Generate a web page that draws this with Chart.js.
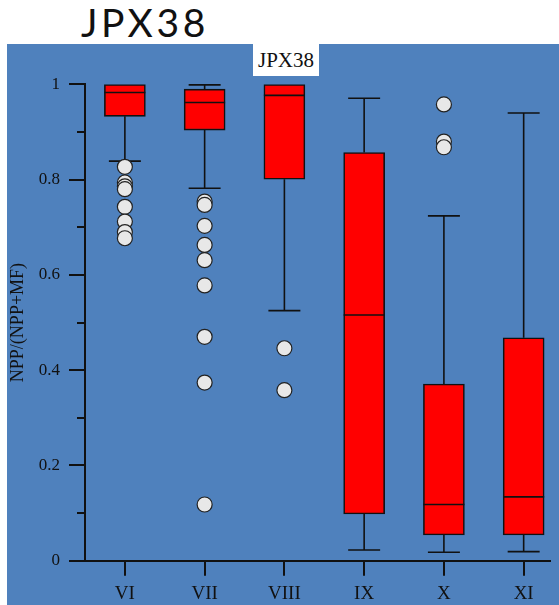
<!DOCTYPE html>
<html>
<head>
<meta charset="utf-8">
<script src="https://cdn.jsdelivr.net/npm/chart.js@4/dist/chart.umd.min.js"></script>
<style>
  html, body { margin: 0; padding: 0; background: #ffffff; }
  #page { position: relative; width: 559px; height: 605px; overflow: hidden; background: #ffffff; }
  #heading {
    position: absolute; left: 81px; top: 3px;
    font: 400 39px Lato, "Open Sans", sans-serif; line-height: 39px;
    letter-spacing: 3.6px;
    color: #111; white-space: nowrap;
  }
  #panel { position: absolute; left: 7px; top: 44px; width: 552px; height: 561px; background: #4f81bd; }
  #tag {
    position: absolute; left: 253px; top: 44px; width: 66px; height: 32px;
    background: #ffffff; color: #111; text-align: center;
    font: 21px "Liberation Serif", "Times New Roman", serif; line-height: 32px;
  }
</style>
</head>
<body>
<div id="page">
  <div id="heading">JPX38</div>
  <div id="panel"><canvas id="chart" width="552" height="561"></canvas></div>
  <div id="tag">JPX38</div>
</div>
<script>
// Months (roman numerals) along the x axis
const categories = ['VI', 'VII', 'VIII', 'IX', 'X', 'XI'];

// Five-number summaries per month
const whiskerLow  = [0.839, 0.782, 0.525, 0.0225, 0.0176, 0.019];
const q1          = [0.933, 0.904, 0.801, 0.098, 0.054, 0.054];
const median      = [0.983, 0.962, 0.977, 0.516, 0.118, 0.134];
const q3          = [1.000, 0.990, 1.000, 0.857, 0.371, 0.468];
const whiskerHigh = [1.000, 0.999, 1.000, 0.971, 0.724, 0.940];

// Outlying observations per month
const outliersVI   = [0.827, 0.794, 0.786, 0.780, 0.743, 0.712, 0.690, 0.677];
const outliersVII  = [0.754, 0.747, 0.703, 0.663, 0.631, 0.578, 0.470, 0.374, 0.118];
const outliersVIII = [0.446, 0.358];
const outliersIX   = [];
const outliersX    = [0.958, 0.880, 0.868];
const outliersXI   = [];

// Axis ticks
const yMajorTicks = [0, 0.2, 0.4, 0.6, 0.8, 1];
const yMinorTicks = [0.1, 0.3, 0.5, 0.7, 0.9];
const yTickLabels = ['0', '0.2', '0.4', '0.6', '0.8', '1'];

const outlierGroups = [outliersVI, outliersVII, outliersVIII, outliersIX, outliersX, outliersXI];

const boxData = categories.map((c, i) => ({ x: i, y: [q1[i], q3[i]] }));
const outlierData = [];
outlierGroups.forEach((group, i) => group.forEach(v => outlierData.push({ x: i, y: v })));

const INK = '#111111';

// Whiskers, caps, medians and minor ticks, placed through the chart scales
const boxParts = {
  id: 'boxParts',
  beforeDatasetsDraw(chart) {
    const { ctx, scales: { x, y } } = chart;
    const bars = chart.getDatasetMeta(0).data;
    ctx.save();
    ctx.strokeStyle = INK;
    ctx.lineWidth = 1.6;
    categories.forEach((c, i) => {
      const cx = x.getPixelForValue(i);
      const capHalf = bars[i].width * 0.39;
      const segs = [];
      if (whiskerLow[i] < q1[i]) segs.push([q1[i], whiskerLow[i]]);
      if (whiskerHigh[i] > q3[i]) segs.push([q3[i], whiskerHigh[i]]);
      segs.forEach(([from, to]) => {
        const y0 = y.getPixelForValue(from), y1 = y.getPixelForValue(to);
        ctx.beginPath();
        ctx.moveTo(cx, y0); ctx.lineTo(cx, y1);
        ctx.moveTo(cx - capHalf, y1); ctx.lineTo(cx + capHalf, y1);
        ctx.stroke();
      });
    });
    ctx.restore();
  },
  afterDatasetDraw(chart, args) {
    if (args.index !== 0) return;
    const { ctx, scales: { y } } = chart;
    ctx.save();
    ctx.strokeStyle = INK;
    ctx.lineWidth = 1.6;
    args.meta.data.forEach((bar, i) => {
      const my = y.getPixelForValue(median[i]);
      ctx.beginPath();
      ctx.moveTo(bar.x - bar.width / 2, my);
      ctx.lineTo(bar.x + bar.width / 2, my);
      ctx.stroke();
    });
    ctx.restore();
  },
  afterDraw(chart) {
    const { ctx, chartArea, scales: { y } } = chart;
    ctx.save();
    ctx.strokeStyle = INK;
    ctx.lineWidth = 2;
    yMinorTicks.forEach(v => {
      const py = Math.round(y.getPixelForValue(v));
      ctx.beginPath();
      ctx.moveTo(chartArea.left - 8, py);
      ctx.lineTo(chartArea.left, py);
      ctx.stroke();
    });
    ctx.restore();
  }
};

new Chart(document.getElementById('chart'), {
  type: 'bar',
  data: {
    datasets: [
      {
        type: 'bar',
        data: boxData,
        backgroundColor: '#ff0000',
        borderColor: INK,
        borderWidth: 1.6,
        borderSkipped: false,
        barThickness: 41,
        order: 1
      },
      {
        type: 'scatter',
        data: outlierData,
        pointRadius: 7.5,
        pointBackgroundColor: '#e8e8e8',
        pointBorderColor: '#222222',
        pointBorderWidth: 1.2,
        showLine: false,
        order: 0
      }
    ]
  },
  options: {
    responsive: false,
    animation: false,
    layout: { padding: { top: 40.4, right: 0, left: 0, bottom: 0 } },
    plugins: { legend: { display: false }, tooltip: { enabled: false }, title: { display: false } },
    scales: {
      x: {
        type: 'linear',
        offset: false,
        min: -0.5,
        max: 5.334,
        afterBuildTicks(scale) { scale.ticks = categories.map((c, i) => ({ value: i })); },
        afterFit(scale) { scale.height = 44.3; },
        grid: { display: true, offset: false, drawOnChartArea: false, drawTicks: true, tickLength: 15, color: INK, lineWidth: 2 },
        border: { display: true, color: INK, width: 2 },
        ticks: {
          padding: 7,
          color: INK,
          font: { family: '"Liberation Serif", "Times New Roman", serif', size: 19 },
          callback: (v) => categories[Math.round(v)] ?? ''
        }
      },
      y: {
        type: 'linear',
        min: 0,
        max: 1,
        afterBuildTicks(scale) { scale.ticks = yMajorTicks.map(v => ({ value: v })); },
        afterFit(scale) { scale.width = 78; },
        grid: { display: true, drawOnChartArea: false, drawTicks: true, tickLength: 16, color: INK, lineWidth: 2 },
        border: { display: true, color: INK, width: 2 },
        ticks: {
          padding: 9,
          color: INK,
          font: { family: '"Liberation Serif", "Times New Roman", serif', size: 17 },
          callback: (v) => yTickLabels[yMajorTicks.findIndex(t => Math.abs(t - v) < 1e-9)] ?? ''
        },
        title: {
          display: true,
          text: 'NPP/(NPP+MF)',
          color: INK,
          padding: { top: 0, bottom: 0 },
          font: { family: '"Liberation Serif", "Times New Roman", serif', size: 18 }
        }
      }
    }
  },
  plugins: [boxParts]
});
</script>
</body>
</html>
